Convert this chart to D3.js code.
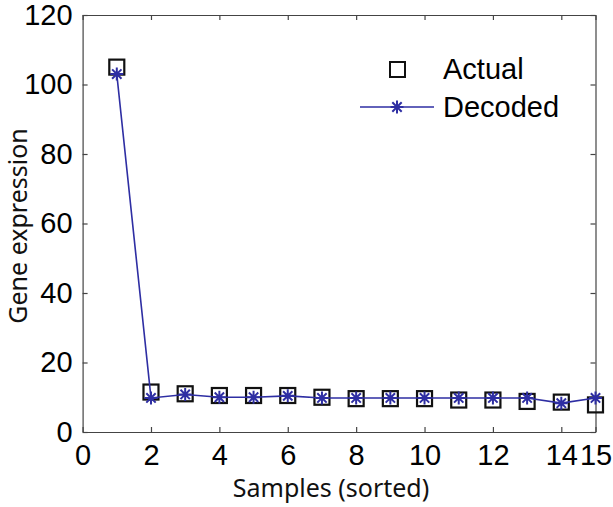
<!DOCTYPE html>
<html>
<head>
<meta charset="utf-8">
<script src="https://cdn.jsdelivr.net/npm/d3@7"></script>
<style>
  body { margin: 0; background: #fff; }
</style>
</head>
<body>
<div id="viz"></div>
<script>
var samples = [1,2,3,4,5,6,7,8,9,10,11,12,13,14,15];
var actual  = [105, 11.5, 11, 10.5, 10.5, 10.5, 10, 9.6, 9.6, 9.6, 9.2, 9.2, 8.8, 8.6, 7.8];
var decoded = [103, 9.8, 10.8, 10, 10, 10.4, 9.8, 9.8, 9.8, 9.8, 9.8, 9.8, 9.8, 8.3, 9.8];
var xTicks = [0,2,4,6,8,10,12,14,15];
var yTicks = [0,20,40,60,80,100,120];

var w = 613, h = 507;
var mLeft = 82.6, mRight = 595.5, mTop = 15, mBottom = 432;
var blue = "#2e2ea3";
var tickFont = "'Liberation Sans', Arial, sans-serif";
var labelFont = "'Noto Sans', 'Open Sans', sans-serif";

var svg = d3.select("#viz").append("svg")
  .attr("width", w).attr("height", h);

var x = d3.scaleLinear().domain([0, 15]).range([mLeft, mRight]);
var y = d3.scaleLinear().domain([0, 120]).range([mBottom, mTop]);

// box with inward ticks on all sides
function styleAxis(g) {
  g.select(".domain").attr("stroke", "#444").attr("stroke-width", 1.2);
  g.selectAll(".tick line").attr("stroke", "#444").attr("stroke-width", 1.2);
  g.selectAll(".tick text").style("font-family", tickFont).style("font-size", "29px").attr("fill", "#000");
}
svg.append("g").attr("transform", "translate(0," + mBottom + ")")
  .call(d3.axisBottom(x).tickValues(xTicks).tickSizeInner(-5).tickSizeOuter(0).tickPadding(12))
  .call(styleAxis);
svg.append("g").attr("transform", "translate(0," + mTop + ")")
  .call(d3.axisTop(x).tickValues(xTicks).tickSizeInner(-5).tickSizeOuter(0).tickFormat(""))
  .call(styleAxis);
svg.append("g").attr("transform", "translate(" + mLeft + ",0)")
  .call(d3.axisLeft(y).tickValues(yTicks).tickSizeInner(-5).tickSizeOuter(0).tickPadding(10))
  .call(styleAxis);
svg.append("g").attr("transform", "translate(" + mRight + ",0)")
  .call(d3.axisRight(y).tickValues(yTicks).tickSizeInner(-5).tickSizeOuter(0).tickFormat(""))
  .call(styleAxis);

// actual: open squares
var sq = 15;
svg.append("g").selectAll("rect").data(samples).join("rect")
  .attr("x", function(d, i){ return x(d) - sq/2; })
  .attr("y", function(d, i){ return y(actual[i]) - sq/2; })
  .attr("width", sq).attr("height", sq)
  .attr("fill", "none").attr("stroke", "#111").attr("stroke-width", 2.2);

// decoded: line + asterisks
var line = d3.line().x(function(d, i){ return x(samples[i]); }).y(function(d){ return y(d); });
svg.append("path").datum(decoded)
  .attr("d", line).attr("fill", "none").attr("stroke", blue).attr("stroke-width", 1.6);

function star(g, cx, cy, r) {
  var p = "M" + (cx - r) + "," + cy + "H" + (cx + r) +
          "M" + cx + "," + (cy - r) + "V" + (cy + r);
  var k = r * 0.72;
  p += "M" + (cx - k) + "," + (cy - k) + "L" + (cx + k) + "," + (cy + k) +
       "M" + (cx - k) + "," + (cy + k) + "L" + (cx + k) + "," + (cy - k);
  g.append("path").attr("d", p).attr("stroke", blue).attr("stroke-width", 2).attr("fill", "none");
}
var stars = svg.append("g");
decoded.forEach(function(v, i){ star(stars, x(samples[i]), y(v), 6.5); });

// legend
var lg = svg.append("g");
lg.append("rect").attr("x", 390).attr("y", 62).attr("width", 15).attr("height", 15)
  .attr("fill", "none").attr("stroke", "#111").attr("stroke-width", 2);
lg.append("text").attr("x", 443).attr("y", 79).text("Actual")
  .style("font-family", tickFont).style("font-size", "29px");
lg.append("line").attr("x1", 360).attr("x2", 434).attr("y1", 107).attr("y2", 107)
  .attr("stroke", blue).attr("stroke-width", 1.6);
star(lg, 397, 107, 6.5);
lg.append("text").attr("x", 443).attr("y", 117).text("Decoded")
  .style("font-family", tickFont).style("font-size", "29px");

// axis labels
svg.append("text").attr("text-anchor", "middle")
  .style("font-family", labelFont).style("font-size", "25px").attr("fill", "#111")
  .attr("x", 331).attr("y", 497).text("Samples (sorted)");
svg.append("text").attr("text-anchor", "middle")
  .style("font-family", labelFont).style("font-size", "25px").attr("fill", "#111")
  .attr("transform", "translate(27,226) rotate(-90)")
  .text("Gene expression");
</script>
</body>
</html>
